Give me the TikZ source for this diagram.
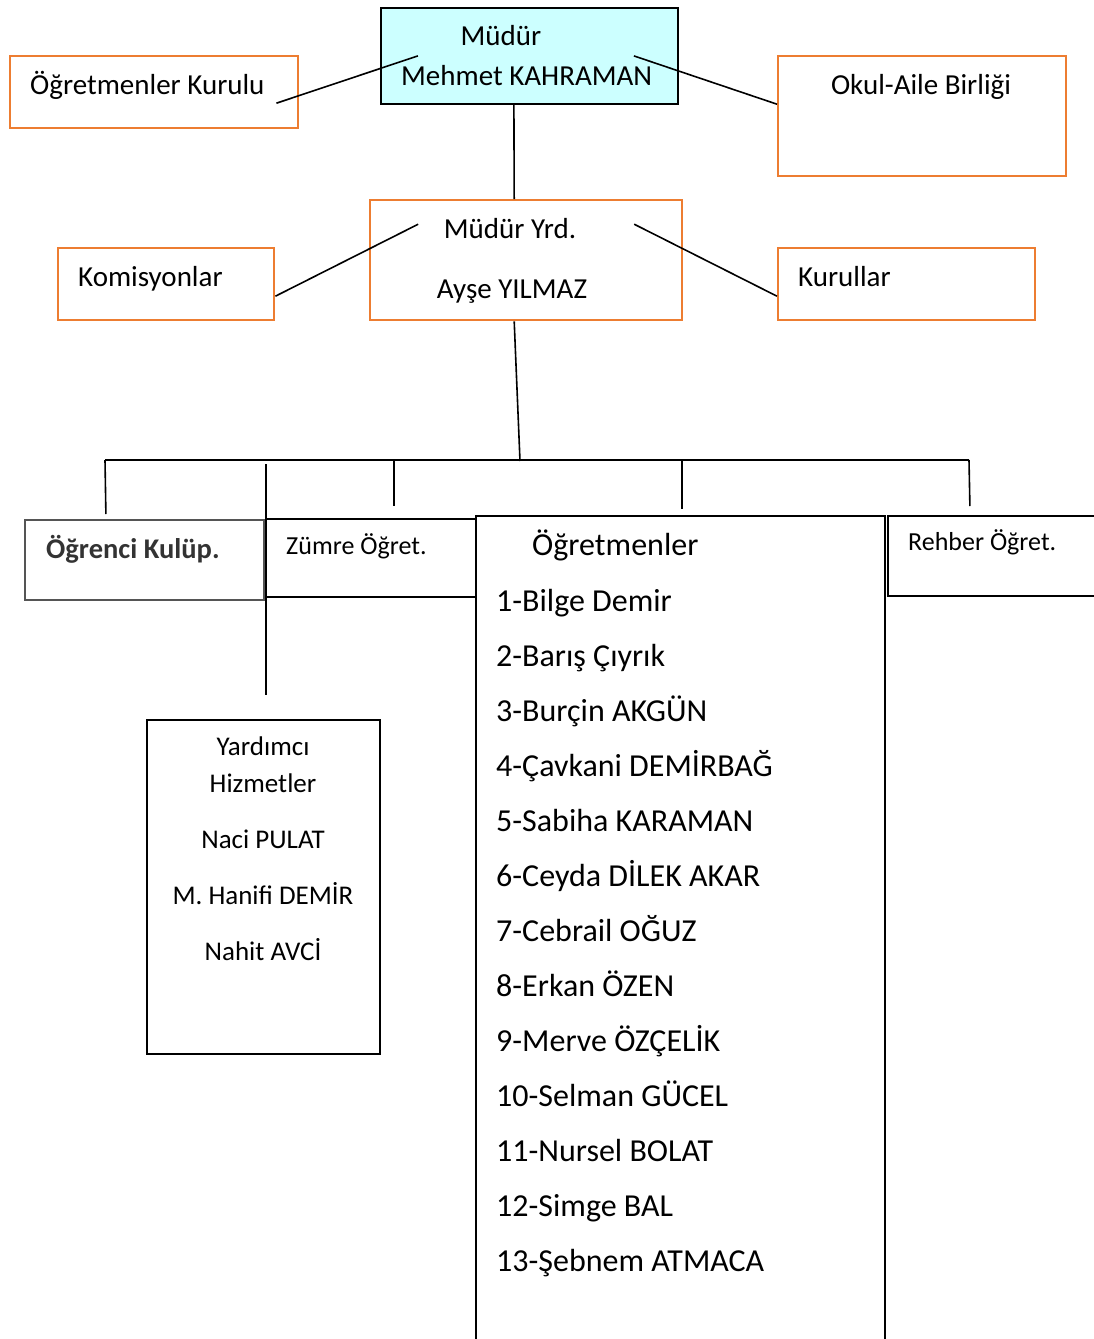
\documentclass[tikz,border=0pt]{standalone}
\usepackage{fontspec}
\setmainfont{Carlito}
\usetikzlibrary{positioning,calc}
\definecolor{orgline}{RGB}{237,125,49}
\definecolor{cyanmdr}{RGB}{204,255,255}
\definecolor{grayline}{RGB}{85,85,85}

\begin{document}
\begin{tikzpicture}[x=1pt,y=-1pt]

          \tikzstyle{orgbox}=[draw=orgline,line width=2.4pt,rectangle,inner sep=0pt,anchor=north west]
          \tikzstyle{blkbox}=[draw=black,line width=1.8pt,rectangle,inner sep=0pt,anchor=north west]
          \tikzstyle{big}=[inner sep=0pt,font=\fontsize{29}{35}\selectfont]
          \tikzstyle{small}=[inner sep=0pt,anchor=base west,font=\fontsize{26}{31}\selectfont]
          \tikzstyle{yrdm}=[inner sep=0pt,anchor=base,font=\fontsize{27}{32}\selectfont]
          \tikzstyle{list}=[inner sep=0pt,anchor=base west,font=\fontsize{32}{38}\selectfont]
          \tikzstyle{link}=[draw,line width=1.6pt]

    \useasboundingbox (0,0) rectangle (1093,1339);

    % kutular
    \node[blkbox,fill=cyanmdr,minimum width=297pt,minimum height=96pt] (mudur) at (380,7) {};
    \node[orgbox,minimum width=288pt,minimum height=72pt] (kurul) at (9,55) {};
    \node[orgbox,minimum width=288pt,minimum height=120pt] (okul) at (777,55) {};
    \node[orgbox,minimum width=312pt,minimum height=120pt] (yrd) at (369,199) {};
    \node[orgbox,minimum width=216pt,minimum height=72pt] (kom) at (57,247) {};
    \node[orgbox,minimum width=257pt,minimum height=72pt] (kur) at (777,247) {};
    \node[blkbox,draw=grayline,minimum width=239pt,minimum height=80pt] (ogrkul) at (24,519) {};
    \node[blkbox,minimum width=210pt,minimum height=78pt] (zumre) at (265,518) {};
    \node[blkbox,minimum width=409pt,minimum height=840pt] (ogt) at (475,515) {};
    \node[blkbox,minimum width=220pt,minimum height=80pt] (rehber) at (887,515) {};
    \node[blkbox,minimum width=233pt,minimum height=334pt] (yard) at (146,719) {};

    % yazilar
    \node[big,anchor=base] (tmudur) at (501,45) {Müdür};
    \node[big,anchor=base west] (tmehmet) at (401,85) {Mehmet KAHRAMAN};
    \node[big,anchor=base west] (tkurul) at (30,94) {Öğretmenler Kurulu};
    \node[big,anchor=base] (tokul) at (921,94) {Okul-Aile Birliği};
    \node[big,anchor=base] (tyrd) at (510,238) {Müdür Yrd.};
    \node[big,anchor=base] (tayse) at (512,298) {Ayşe YILMAZ};
    \node[big,anchor=base west] (tkom) at (78,286) {Komisyonlar};
    \node[big,anchor=base west] (tkur) at (798,286) {Kurullar};
    \node[small,text=black!80,font=\fontsize{28.5}{33}\selectfont\bfseries] (togrkul) at (46,558) {Öğrenci Kulüp.};
    \node[small] (tzumre) at (286,554) {Zümre Öğret.};
    \node[small] (trehber) at (908,550) {Rehber Öğret.};

    \node[yrdm] (tyard1) at (263,755) {Yardımcı};
    \node[yrdm] (tyard2) at (263,792) {Hizmetler};
    \node[yrdm] (tyard3) at (263,848) {Naci PULAT};
    \node[yrdm] (tyard4) at (263,904) {M. Hanifi DEMİR};
    \node[yrdm] (tyard5) at (263,960) {Nahit AVCİ};

    \node[list] (togt) at (532,555) {Öğretmenler};
    \foreach \ad [count=\i] in {Bilge Demir,Barış Çıyrık,Burçin AKGÜN,Çavkani DEMİRBAĞ,Sabiha KARAMAN,Ceyda DİLEK AKAR,Cebrail OĞUZ,Erkan ÖZEN,Merve ÖZÇELİK,Selman GÜCEL,Nursel BOLAT,Simge BAL,Şebnem ATMACA}
        \node[list] (ad\i) at (496,556+55*\i) {\i-\ad};

    % baglantilar
    \coordinate (busl) at (105,460);
    \coordinate (busm) at (520,461);
    \coordinate (busr) at (969,460);

    \path[link] ([xshift=-23pt,yshift=-11pt]kurul.east) -- ([xshift=-111.5pt]mudur.center);
    \path[link] ([xshift=104.5pt]mudur.center) -- ([yshift=12pt]okul.west);
    \path[link] ([xshift=-15.5pt]mudur.south) -- ([xshift=-12pt]yrd.north);
    \path[link] ([yshift=-12pt]kom.east) -- ([xshift=-108pt,yshift=36pt]yrd.center);
    \path[link] ([xshift=108pt,yshift=36pt]yrd.center) -- ([yshift=-12pt]kur.west);
    \path[link] ([xshift=-12pt]yrd.south) -- (busm);
    \path[link] (busl) -- (busr);
    \path[link] (busl) -- ([xshift=-38.5pt,yshift=5pt]ogrkul.north);
    \path[link] ([xshift=23pt]zumre.north |- busl) -- ([xshift=23pt,yshift=12pt]zumre.north);
    \path[link] ([xshift=1.5pt]ogt.north |- busl) -- ([xshift=1.5pt,yshift=6pt]ogt.north);
    \path[link] (busr) -- ([xshift=-28pt,yshift=9pt]rehber.north);
    \path[link] ([xshift=2.5pt,yshift=-4pt]yard.north |- busl) -- ([xshift=2.5pt,yshift=24pt]yard.north);

\end{tikzpicture}
\end{document}
